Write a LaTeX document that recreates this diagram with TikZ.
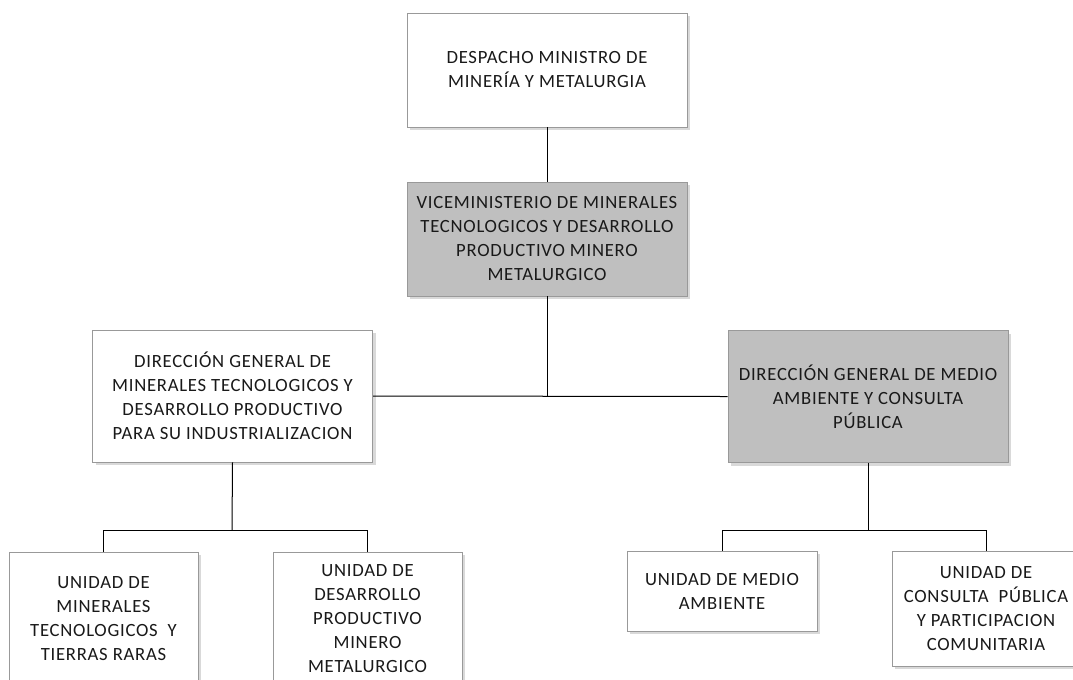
\documentclass[tikz,border=0pt]{standalone}
\usepackage{fontspec}
\setmainfont{Carlito}[LetterSpace=4]
\usetikzlibrary{positioning, shadows}

\begin{document}
\begin{tikzpicture}[
        x=0.75pt, y=-0.75pt,
        every node/.style={align=center, text=black!90, font=\fontsize{14}{18}\selectfont},
        unitbox/.style={draw=black!40, line width=0.6pt, fill=white, inner sep=1pt,
            drop shadow={opacity=0.3, shadow xshift=2.5pt, shadow yshift=-2.5pt}},
        graybox/.style={unitbox, fill=black!25},
        link/.style={draw=black, line width=0.75pt}
    ]
        \clip (0,0) rectangle (1073,679);

        % Niveles superiores
        \node [unitbox, minimum width=210pt, minimum height=85.5pt] (despacho) at (547,70)
            {DESPACHO MINISTRO DE\\MINERÍA Y METALURGIA};
        \node [graybox, minimum width=210pt, minimum height=85.5pt] (vice) at (547,239)
            {VICEMINISTERIO DE MINERALES\\TECNOLOGICOS Y DESARROLLO\\PRODUCTIVO MINERO\\METALURGICO};

        % Direcciones generales
        \node [unitbox, minimum width=210.5pt, minimum height=99pt] (dgmin) at (232.5,396)
            {DIRECCIÓN GENERAL DE\\MINERALES TECNOLOGICOS Y\\DESARROLLO PRODUCTIVO\\PARA SU INDUSTRIALIZACION};
        \node [graybox, minimum width=210pt, minimum height=98.5pt] (dgamb) at (868,396.5)
            {DIRECCIÓN GENERAL DE MEDIO\\AMBIENTE Y CONSULTA\\PÚBLICA};

        % Unidades
        \node [unitbox, minimum width=141.75pt, minimum height=100.5pt] (umin) at (103.5,619)
            {UNIDAD DE\\MINERALES\\TECNOLOGICOS\ \ Y\\TIERRAS RARAS};
        \node [unitbox, minimum width=141.75pt, minimum height=100.5pt] (udes) at (367.5,619)
            {UNIDAD DE\\DESARROLLO\\PRODUCTIVO\\MINERO\\METALURGICO};
        \node [unitbox, minimum width=142.5pt, minimum height=60pt] (umed) at (722,591)
            {UNIDAD DE MEDIO\\AMBIENTE};
        \node [unitbox, minimum width=141pt, minimum height=86.25pt] (ucons) at (986,608.5)
            {UNIDAD DE\\CONSULTA\ \ PÚBLICA\\Y PARTICIPACION\\COMUNITARIA};

        \coordinate (jmin) at (232,530);
        \coordinate (jamb) at (868,530);

        % Conectores
        \draw [link] (despacho.south) -- (vice.north);
        \draw [link] (vice.south) -- (vice.south |- dgmin.east);
        \draw [link] (dgmin.east) -- (dgamb.west);
        \draw [link] (dgmin.south) -- (jmin);
        \draw [link] (umin.north) |- (jmin) -| (udes.north);
        \draw [link] (dgamb.south) -- (jamb);
        \draw [link] (umed.north) |- (jamb) -| (ucons.north);
    \end{tikzpicture}
\end{document}
